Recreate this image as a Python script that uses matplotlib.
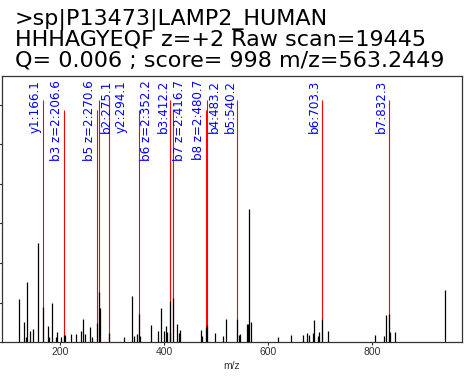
import matplotlib
matplotlib.use("Agg")
import matplotlib.pyplot as plt
import numpy as np

# ---------------- data ----------------
title_lines = [
    ">sp|P13473|LAMP2_HUMAN",
    "HHHAGYEQF z=+2 Raw scan=19445",
    "Q= 0.006 ; score= 998 m/z=563.2449",
]

peak_mz = [119.9, 129.5, 134.7, 136.0, 141.0, 146.8, 156.4, 166.1, 175.6, 178.9,
           185.2, 191.7, 193.6, 201.9, 206.6, 209.6, 221.7, 231.3, 239.8, 244.2,
           247.4, 258.2, 262.0, 270.6, 275.1, 276.8, 294.1, 323.6, 338.3, 342.7,
           347.3, 352.2, 354.3, 374.2, 388.3, 394.0, 400.4, 403.1, 406.1, 411.5,
           412.2, 416.7, 425.4, 429.3, 431.2, 470.9, 472.8, 480.7, 483.2, 498.4,
           512.6, 519.6, 540.2, 543.2, 546.4, 558.6, 560.6, 563.2, 567.6, 618.8,
           643.8, 666.9, 675.2, 679.0, 686.7, 689.3, 695.7, 698.2, 703.3, 714.9,
           805.2, 823.8, 826.9, 832.3, 835.3, 844.2, 941.0]
peak_int = [10870, 5060, 1420, 15170, 2930, 3290, 25030, 9000, 4040, 1420,
            10010, 1420, 2530, 1420, 1770, 1770, 2020, 2020, 2780, 5810,
            2020, 3790, 1420, 4800, 12640, 8600, 2280, 1420, 11630, 1520,
            2020, 7080, 1520, 4300, 2780, 8600, 2780, 4040, 2530, 2280,
            10520, 11120, 4550, 2430, 3030, 3030, 1520, 3790, 4300, 2430,
            1520, 5970, 5810, 1770, 2020, 4550, 4550, 33620, 5060, 1340,
            1770, 1770, 2280, 1770, 2280, 5560, 1520, 2530, 5810, 2930,
            1770, 1670, 6830, 7080, 2530, 2530, 13150]

ion_labels = ["y1:166.1", "b3 z=2:206.6", "b5 z=2:270.6", "b2:275.1", "y2:294.1",
              "b6 z=2:352.2", "b3:412.2", "b7 z=2:416.7", "b8 z=2:480.7",
              "b4:483.2", "b5:540.2", "b6:703.3", "b7:832.3"]
ion_mz = [166.1, 206.6, 270.6, 275.1, 294.1, 352.2, 412.2, 416.7, 480.7,
          483.2, 540.2, 703.3, 832.3]
ion_charge = [1, 2, 2, 1, 1, 2, 1, 2, 2, 1, 1, 1, 1]

x_ticks = [200, 400, 600, 800]
x_label = "m/z"

# ---------------- figure ----------------
W, H = 475, 376
fig = plt.figure(figsize=(W / 100, H / 100), dpi=100)
ax = fig.add_axes([1.5 / W, (H - 342.3) / H, (462.3 - 1.5) / W, (342.3 - 76) / H])

mz = np.array(peak_mz)
inten = np.array(peak_int)
rng = mz.max() - mz.min()
ax.set_xlim(mz.min() - 0.04 * rng, mz.max() + 0.04 * rng)
ymax = 2 * inten.max()
ax.set_ylim(0, ymax)

# red annotation lines (drawn first, peaks on top)
for m, z in zip(ion_mz, ion_charge):
    top = 0.91 if z == 1 else 0.872
    ax.vlines(m, 0, top * ymax, color="#ff0000", lw=0.8, zorder=1)

ax.vlines(mz, 0, inten, color="black", lw=0.9, zorder=2)

# labels: left of the line unless that overlaps the previous label
fig.canvas.draw()
renderer = fig.canvas.get_renderer()
prev_right = -1e9
for lab, m in zip(ion_labels, ion_mz):
    xp = ax.transData.transform((m, 0))[0]
    t = ax.annotate(lab, xy=(m, 0.985), xycoords=("data", "axes fraction"),
                    xytext=(-0.4, 0), textcoords="offset points",
                    rotation=90, ha="right", va="top", color="#0000ff",
                    fontsize=8.6, family="DejaVu Sans", zorder=3,
                    annotation_clip=False)
    bb = t.get_window_extent(renderer)
    if bb.x0 < prev_right:
        shift_px = max(xp + 0.5, prev_right + 1.5) - xp
        t.set_ha("left")
        t.xyann = (shift_px * 72 / 100, 0)
        bb = t.get_window_extent(renderer)
    prev_right = bb.x1

for s in ax.spines.values():
    s.set_color("#333333")
    s.set_linewidth(0.9)

tick_font = ["Liberation Sans Narrow", "Liberation Sans", "DejaVu Sans"]
ax.set_xticks(x_ticks)
ax.set_xticklabels([str(t) for t in x_ticks], family=tick_font, fontsize=7.5,
                   color="#333333")
ax.tick_params(axis="x", direction="out", length=2.2, width=0.8, pad=1.5,
               color="#333333")
ax.set_yticks(np.arange(0, ymax, 10000))
ax.tick_params(axis="y", direction="out", length=2.5, width=0.8,
               labelleft=False, color="#333333")
ax.set_xlabel(x_label, family=tick_font, fontsize=7.5, color="#333333",
              labelpad=2.5)

baselines = [25, 45.8, 66.7]
for line, b in zip(title_lines, baselines):
    fig.text(15 / W, 1 - b / H, line, fontsize=16, family="DejaVu Sans",
             va="baseline", ha="left", color="black")

fig.savefig("out.png", dpi=100)
